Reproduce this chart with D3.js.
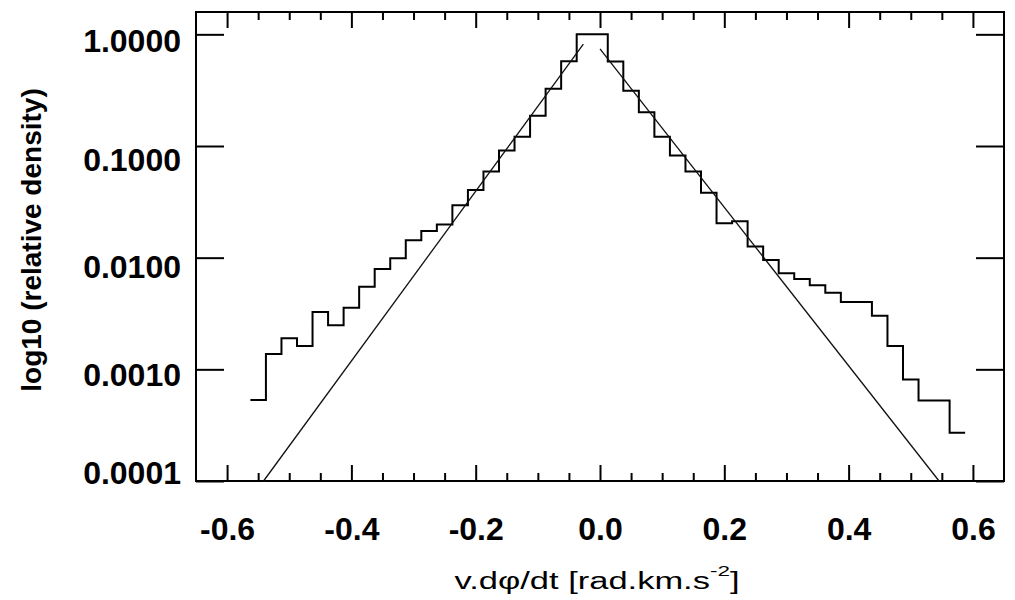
<!DOCTYPE html>
<html>
<head>
<meta charset="utf-8">
<script src="https://cdn.jsdelivr.net/npm/d3@7"></script>
<style>
  body { margin: 0; background: #fff; }
  text { font-family: "Liberation Sans", Arial, Helvetica, sans-serif; fill: #000; }
</style>
</head>
<body>
<div id="chart"></div>
<script>
// histogram bin centres (width 0.025) and relative density
const binCenters = [
  -0.55, -0.525, -0.5, -0.475, -0.45, -0.425, -0.4, -0.375, -0.35, -0.325,
  -0.3, -0.275, -0.25, -0.225, -0.2, -0.175, -0.15, -0.125, -0.1, -0.075,
  -0.05, -0.025, 0.0, 0.025, 0.05, 0.075, 0.1, 0.125, 0.15, 0.175,
  0.2, 0.225, 0.25, 0.275, 0.3, 0.325, 0.35, 0.375, 0.4, 0.425,
  0.45, 0.475, 0.5, 0.525, 0.55, 0.575
];
const density = [
  0.00053, 0.00137, 0.0019, 0.00162, 0.00326, 0.00248, 0.00356, 0.0055, 0.0079, 0.0099,
  0.0143, 0.0173, 0.0198, 0.0294, 0.0404, 0.059, 0.091, 0.121, 0.187, 0.325,
  0.575, 1.0, 1.0, 0.57, 0.313, 0.201, 0.121, 0.082, 0.059, 0.0382,
  0.0203, 0.0212, 0.01256, 0.00953, 0.00724, 0.00644, 0.00566, 0.00486, 0.00401, 0.00401,
  0.00302, 0.00162, 0.00081, 0.000527, 0.000527, 0.00027
];
const binWidth = 0.025;

// exponential fits (straight lines in log space), end points
const fitLeftX = [-0.5413, -0.0268];
const fitLeftY = [0.0001, 0.817];
const fitRightX = [0.0, 0.5455];
const fitRightY = [0.74, 0.0001];

const xMajor = [-0.6, -0.4, -0.2, 0.0, 0.2, 0.4, 0.6];
const xMinor = [-0.55, -0.5, -0.45, -0.35, -0.3, -0.25, -0.15, -0.1, -0.05,
                0.05, 0.1, 0.15, 0.25, 0.3, 0.35, 0.45, 0.5, 0.55];
const yTicks = [0.0001, 0.001, 0.01, 0.1, 1.0];
const yLabelShift = [2.3, 15.7, 20, 24, 17.4]; // baseline below tick, as in picture

var plotLeft = 196, plotRight = 1004, plotTop = 12, plotBottom = 481;

var svg = d3.select("#chart").append("svg")
    .attr("width", 1015)
    .attr("height", 600);

var xScale = d3.scaleLinear().domain([-0.65, 0.65]).range([plotLeft, plotRight]);
var yScale = d3.scaleLog().domain([1e-4, Math.pow(10, 0.2)]).range([plotBottom, plotTop]);

var fmt1 = function(d) { return d3.format(".1f")(d).replace("\u2212", "-"); };

// x axes, bottom and top, ticks pointing inward
svg.append("g")
    .attr("transform", `translate(0,${plotBottom})`)
    .call(d3.axisBottom(xScale).tickValues(xMajor).tickSize(-16).tickPadding(36)
        .tickFormat(fmt1));
svg.append("g")
    .attr("transform", `translate(0,${plotBottom})`)
    .call(d3.axisBottom(xScale).tickValues(xMinor).tickSize(-8).tickFormat(""));
svg.append("g")
    .attr("transform", `translate(0,${plotTop})`)
    .call(d3.axisTop(xScale).tickValues(xMajor).tickSize(-16).tickFormat(""));
svg.append("g")
    .attr("transform", `translate(0,${plotTop})`)
    .call(d3.axisTop(xScale).tickValues(xMinor).tickSize(-8).tickFormat(""));

// y axes, left and right
var yl = svg.append("g")
    .attr("transform", `translate(${plotLeft},0)`)
    .call(d3.axisLeft(yScale).tickValues(yTicks).tickSize(-28).tickPadding(15)
        .tickFormat(d3.format(".4f")));
yl.selectAll("text")
    .attr("dy", null)
    .attr("y", function(d, i) { return yLabelShift[i]; });
svg.append("g")
    .attr("transform", `translate(${plotRight},0)`)
    .call(d3.axisRight(yScale).tickValues(yTicks).tickSize(-28).tickFormat(""));

svg.selectAll(".domain").remove();
svg.selectAll(".tick line").attr("stroke", "#000").attr("stroke-width", 2);
svg.selectAll(".tick text")
    .style("font-size", "32px")
    .style("font-weight", "bold");

// frame
svg.append("rect")
    .attr("x", plotLeft).attr("y", plotTop)
    .attr("width", plotRight - plotLeft).attr("height", plotBottom - plotTop)
    .attr("fill", "none").attr("stroke", "#000").attr("stroke-width", 2);

// histogram as steps
var stepPts = [];
binCenters.forEach(function(c, i) {
    stepPts.push([c - binWidth / 2, density[i]]);
    stepPts.push([c + binWidth / 2, density[i]]);
});
var line = d3.line()
    .x(function(d) { return xScale(d[0]); })
    .y(function(d) { return yScale(d[1]); });

svg.append("path")
    .datum(stepPts)
    .attr("d", line)
    .attr("fill", "none")
    .attr("stroke", "#000")
    .attr("stroke-width", 2);

// fit lines
[[fitLeftX, fitLeftY], [fitRightX, fitRightY]].forEach(function(f) {
    svg.append("path")
        .datum(f[0].map(function(v, i) { return [v, f[1][i]]; }))
        .attr("d", line)
        .attr("fill", "none")
        .attr("stroke", "#111")
        .attr("stroke-width", 1.3);
});

// axis titles
var xt = svg.append("text")
    .attr("x", 597)
    .attr("y", 589)
    .attr("text-anchor", "middle")
    .style("font-size", "23px")
    .attr("textLength", 285)
    .attr("lengthAdjust", "spacingAndGlyphs");
xt.append("tspan").text("v.d\u03c6/dt [rad.km.s");
xt.append("tspan").attr("dy", -13).style("font-size", "15px").text("-2");
xt.append("tspan").attr("dy", 13).text("]");

svg.append("text")
    .attr("transform", "translate(41,240) rotate(-90)")
    .attr("text-anchor", "middle")
    .style("font-size", "28px")
    .style("font-weight", "bold")
    .text("log10 (relative density)");
</script>
</body>
</html>
